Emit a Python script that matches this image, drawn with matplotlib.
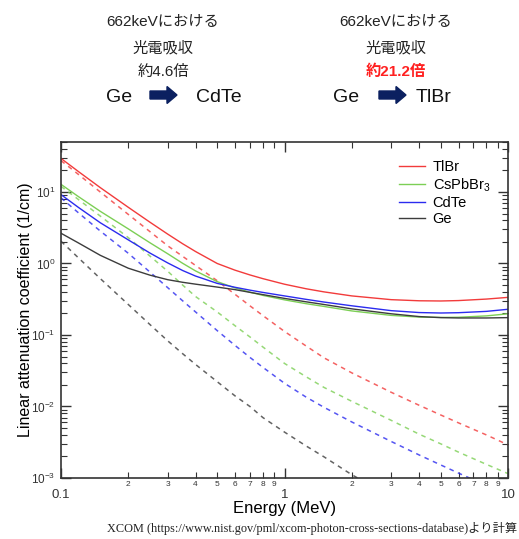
import numpy as np
import matplotlib
matplotlib.use("Agg")
import matplotlib.pyplot as plt
from matplotlib import ticker
from matplotlib.patches import FancyArrow

plt.rcParams['font.family'] = ['Liberation Sans', 'Noto Sans CJK JP']
plt.rcParams['mathtext.fontset'] = 'custom'
plt.rcParams['mathtext.rm'] = 'Liberation Sans'

# photon energy grid (MeV)
energy = [0.1, 0.12, 0.15, 0.2, 0.25, 0.3, 0.35, 0.4, 0.5, 0.6, 0.7, 0.8,
          1.0, 1.25, 1.5, 2.0, 3.0, 4.0, 5.0, 6.0, 8.0, 10.0]

# total linear attenuation coefficient (1/cm)
tlbr_total = [29.5, 19.2, 11.5, 6.11, 3.78, 2.58, 1.89, 1.47, 1.0, 0.807, 0.692, 0.614,
              0.513, 0.443, 0.401, 0.352, 0.312, 0.301, 0.299, 0.303, 0.318, 0.336]
cspbbr3_total = [12.8, 8.57, 5.36, 3.05, 1.95, 1.37, 1.007, 0.787, 0.557, 0.456, 0.397, 0.358,
                 0.31, 0.274, 0.251, 0.217, 0.188, 0.178, 0.176, 0.177, 0.185, 0.198]
cdte_total = [9.2, 6.05, 3.71, 2.14, 1.40, 1.02, 0.798, 0.667, 0.527, 0.465, 0.424, 0.394,
              0.352, 0.315, 0.289, 0.256, 0.219, 0.206, 0.203, 0.205, 0.214, 0.229]
ge_total = [2.65, 1.93, 1.30, 0.859, 0.687, 0.594, 0.546, 0.514, 0.468, 0.431, 0.395, 0.367,
            0.325, 0.291, 0.267, 0.232, 0.198, 0.181, 0.175, 0.173, 0.173, 0.175]

# photoelectric absorption part (1/cm)
tlbr_photo = [27.5, 17.5, 9.98, 4.86, 2.79, 1.77, 1.26, 0.938, 0.574, 0.371, 0.256, 0.187,
              0.112, 0.070, 0.048, 0.0295, 0.0158, 0.0104, 0.0076, 0.0059, 0.0040, 0.0029]
cspbbr3_photo = [12.0, 7.8, 4.6, 2.3, 1.27, 0.78, 0.50, 0.345, 0.21, 0.135, 0.094, 0.068,
                 0.040, 0.026, 0.0185, 0.0118, 0.0064, 0.0041, 0.0030, 0.0023, 0.00155, 0.00115]
cdte_photo = [8.3, 5.08, 2.84, 1.39, 0.759, 0.46, 0.301, 0.21, 0.115, 0.0716, 0.0486, 0.0353,
              0.0211, 0.0135, 0.00975, 0.00607, 0.00324, 0.0021, 0.00152, 0.00117, 0.000785, 0.000577]
ge_energy = [0.1, 0.12, 0.15, 0.2, 0.25, 0.3, 0.35, 0.4, 0.5, 0.6, 0.7, 0.8,
             1.0, 1.25, 1.5, 2.0, 3.0]
ge_photo = [2.05, 1.19, 0.614, 0.267, 0.14, 0.083, 0.0548, 0.0387, 0.0222, 0.0141, 0.0100, 0.0070,
            0.00438, 0.0028, 0.00198, 0.00111, 0.000548]

materials = ['TlBr', 'CsPbBr$_3$', 'CdTe', 'Ge']
colors = ['#f23b3b', '#7ccf55', '#2b2bef', '#3c3c3c']

fig = plt.figure(figsize=(5.19, 5.39), dpi=100)
ax = fig.add_axes([0.1175, 0.1132, 0.8615, 0.6233])

totals = [tlbr_total, cspbbr3_total, cdte_total, ge_total]
photos = [(energy, tlbr_photo), (energy, cspbbr3_photo), (energy, cdte_photo), (ge_energy, ge_photo)]
for name, c, tot, (e_ph, ph) in zip(materials, colors, totals, photos):
    ax.plot(energy, tot, color=c, lw=1.0, label=name)
    ax.plot(e_ph, ph, color=c, lw=1.1, ls=(0, (3, 3)), alpha=0.8)

ax.set_xscale('log')
ax.set_yscale('log')
ax.set_xlim(0.1, 10)
ax.set_ylim(1e-3, 50)

ax.xaxis.set_major_locator(ticker.FixedLocator([0.1, 1, 10]))
ax.xaxis.set_major_formatter(ticker.FixedFormatter(['0.1', '1', '10']))
ax.xaxis.set_minor_locator(ticker.LogLocator(base=10, subs=np.arange(2, 10)))
ax.xaxis.set_minor_formatter(ticker.FuncFormatter(lambda v, p: f'{v / 10 ** np.floor(np.log10(v) + 1e-9):.0f}'))
ax.yaxis.set_major_locator(ticker.LogLocator(base=10))
ax.yaxis.set_major_formatter(ticker.LogFormatterSciNotation())
ax.yaxis.set_minor_locator(ticker.LogLocator(base=10, subs=np.arange(2, 10)))
ax.yaxis.set_minor_formatter(ticker.NullFormatter())

ax.tick_params(which='both', direction='in', top=True, right=True, colors='#333333')
ax.tick_params(axis='x', which='major', length=7, width=1.0, labelsize=9.5, pad=8)
ax.tick_params(axis='x', which='minor', length=4, width=0.8, labelsize=6, pad=2)
ax.tick_params(axis='y', which='major', length=7, width=1.0, labelsize=8.5, pad=4)
ax.tick_params(axis='y', which='minor', length=4, width=0.8)
for sp in ax.spines.values():
    sp.set_linewidth(1.2)
    sp.set_color('#333333')

ax.set_xlabel('Energy (MeV)', fontsize=12, labelpad=0)
ax.set_ylabel('Linear attenuation coefficient (1/cm)', fontsize=11.5, labelpad=-1)

ax.legend(loc='upper right', frameon=False, fontsize=10.5, handlelength=1.8,
          handletextpad=0.5, labelspacing=0.15, bbox_to_anchor=(0.99, 0.985))

# header annotations drawn in pixel coordinates
top = fig.add_axes([0, 0, 1, 1], zorder=-1)
top.set_xlim(0, 519)
top.set_ylim(539, 0)
top.axis('off')

for cx, ratio, rc, w in [(163, '約4.6倍', '#222222', 'normal'), (396, '約21.2倍', '#ff2020', 'bold')]:
    top.text(cx, 22, '662keVにおける', ha='center', va='center', fontsize=11, color='#222222')
    top.text(cx, 48, '光電吸収', ha='center', va='center', fontsize=11, color='#222222')
    top.text(cx, 72, ratio, ha='center', va='center', fontsize=11, color=rc, fontweight=w)

for ge_x, arrow_x, tgt_x, tgt in [(119, 150, 219, 'CdTe'), (346, 379, 434, 'TlBr')]:
    top.text(ge_x, 97, 'Ge', ha='center', va='center', fontsize=14, color='#111111')
    top.text(tgt_x, 97, tgt, ha='center', va='center', fontsize=14, color='#111111')
    top.add_patch(FancyArrow(arrow_x, 95, 27, 0, width=8, head_width=17, head_length=10,
                             length_includes_head=True, color='#0b2060'))

top.text(312, 528, 'XCOM (https://www.nist.gov/pml/xcom-photon-cross-sections-database)より計算',
         ha='center', va='center', fontsize=8.8, color='#222222',
         family=['Liberation Serif', 'Noto Sans CJK JP'])

fig.savefig('out.png', dpi=100)
